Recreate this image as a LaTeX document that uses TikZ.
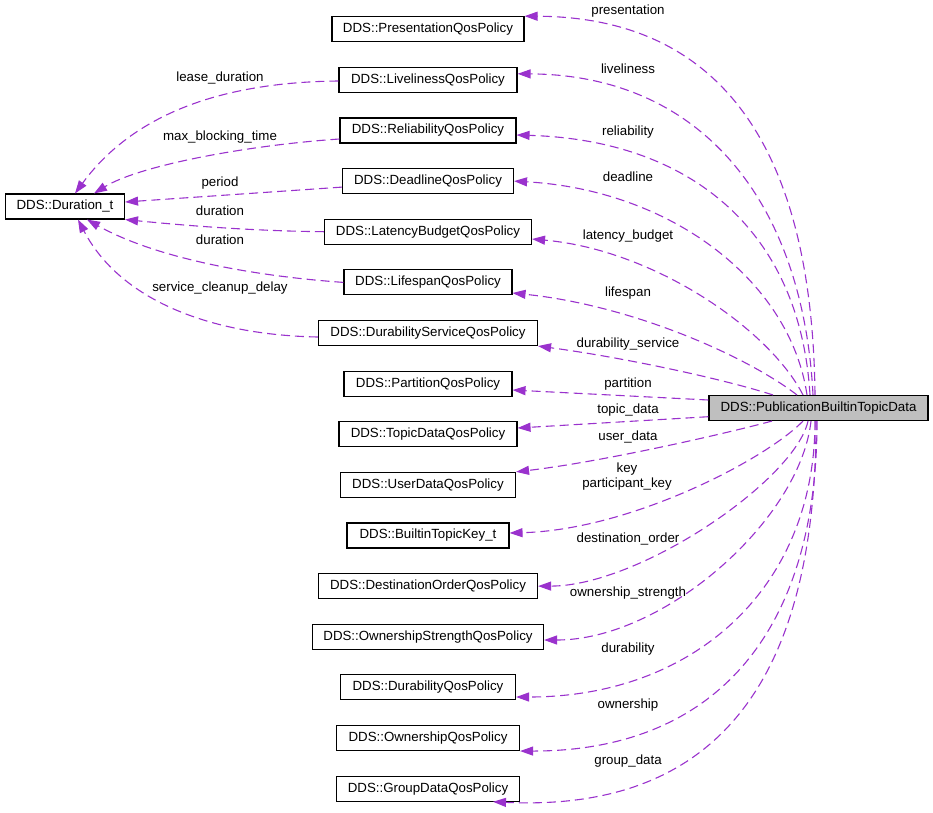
\documentclass[tikz,border=0pt]{standalone}
\usepackage{fontspec}
\setmainfont{Liberation Sans}
\usepackage{tikz}
\usetikzlibrary{arrows.meta}
\definecolor{orchid}{RGB}{154,50,205}

\begin{document}
\begin{tikzpicture}[x=1pt, y=-1pt, >={Triangle[length=13pt, width=9pt]},
    font=\fontsize{13.3}{15}\selectfont,
    cls/.style={draw, line width=1.1pt, minimum height=25pt, inner sep=0pt, text height=9.7pt, text depth=2.8pt},
    dep/.style={->, orchid, line width=1.1pt, dash pattern=on 9pt off 5pt},
    lbl/.style={text=black, inner sep=0pt, text height=9.7pt, text depth=2.8pt}]

    \useasboundingbox (0,0) rectangle (933,812);

    % Nodes
    \node (main) [cls, fill=black!25, minimum width=219pt] at (818.5,408) {DDS::PublicationBuiltinTopicData};
    \node (dur) [cls, minimum width=119pt] at (65,206.5) {DDS::Duration\_t};

    \node (pres) [cls, minimum width=192pt] at (428,29.2) {DDS::PresentationQosPolicy};
    \node (live) [cls, minimum width=178pt] at (428,79.8) {DDS::LivelinessQosPolicy};
    \node (reli) [cls, minimum width=176pt] at (428,130.5) {DDS::ReliabilityQosPolicy};
    \node (dead) [cls, minimum width=171pt] at (428,181.1) {DDS::DeadlineQosPolicy};
    \node (late) [cls, minimum width=207pt] at (428,231.7) {DDS::LatencyBudgetQosPolicy};
    \node (life) [cls, minimum width=168pt] at (428,282.4) {DDS::LifespanQosPolicy};
    \node (dserv) [cls, minimum width=219pt] at (428,333.0) {DDS::DurabilityServiceQosPolicy};
    \node (part) [cls, minimum width=168pt] at (428,383.6) {DDS::PartitionQosPolicy};
    \node (topic) [cls, minimum width=178pt] at (428,434.2) {DDS::TopicDataQosPolicy};
    \node (user) [cls, minimum width=175pt] at (428,484.9) {DDS::UserDataQosPolicy};
    \node (key) [cls, minimum width=162pt] at (428,535.5) {DDS::BuiltinTopicKey\_t};
    \node (dest) [cls, minimum width=219pt] at (428,586.1) {DDS::DestinationOrderQosPolicy};
    \node (ownstr) [cls, minimum width=231pt] at (428,636.8) {DDS::OwnershipStrengthQosPolicy};
    \node (dura) [cls, minimum width=175pt] at (428,687.4) {DDS::DurabilityQosPolicy};
    \node (owner) [cls, minimum width=183pt] at (428,738.0) {DDS::OwnershipQosPolicy};
    \node (group) [cls, minimum width=183pt] at (428,788.7) {DDS::GroupDataQosPolicy};

    % Arrows and edge labels (main to its members)
    \draw[dep] ([xshift=-3.5pt]main.north) .. controls (812,120) and (700,17) .. (pres.north east)
        node[lbl] (l-pres) at (628,11.5) {presentation};
    \draw[dep] ([xshift=-5.5pt]main.north) .. controls (803,200) and (700,75) .. ([yshift=6pt]live.east)
        node[lbl] (l-live) at (628,70.5) {liveliness};
    \draw[dep] ([xshift=-8.5pt]main.north) .. controls (800,230) and (690,140) .. ([yshift=-4.5pt]reli.east)
        node[lbl] (l-reli) at (628,131.7) {reliability};
    \draw[dep] ([xshift=-11.5pt]main.north) .. controls (790,280) and (670,190) .. (dead.east)
        node[lbl] (l-dead) at (628,178.5) {deadline};
    \draw[dep] ([xshift=-15.5pt]main.north) .. controls (770,330) and (655,250) .. ([yshift=-7.3pt]late.east)
        node[lbl] (l-late) at (628,236.5) {latency\_budget};
    \draw[dep] ([xshift=-21.5pt]main.north) .. controls (745,355) and (630,305) .. ([yshift=-10.6pt]life.east)
        node[lbl] (l-life) at (628,292.7) {lifespan};
    \draw[dep] ([xshift=-45.5pt]main.north) .. controls (720,378) and (620,357) .. (dserv.south east)
        node[lbl] (l-dserv) at (628,343.7) {durability\_service};
    \draw[dep] ([yshift=8pt]main.west) -- ([yshift=-6.4pt]part.east)
        node[lbl] (l-part) at (628,383.7) {partition};
    \draw[dep] ([yshift=-8.7pt]main.west) -- ([yshift=6.2pt]topic.east)
        node[lbl] (l-topic) at (628,410.5) {topic\_data};
    \draw[dep] ([xshift=-46.5pt]main.south) .. controls (720,435) and (600,462) .. (user.north east)
        node[lbl] (l-user) at (628,436.7) {user\_data};
    \draw[dep] ([xshift=-15.5pt]main.south) .. controls (765,460) and (630,530) .. ([yshift=2.5pt]key.east)
        node[lbl, align=center] (l-key) at (627,484.2) {key\\participant\_key};
    \draw[dep] ([xshift=-10.5pt]main.south) .. controls (795,480) and (640,586) .. (dest.east)
        node[lbl] (l-dest) at (628,539.3) {destination\_order};
    \draw[dep] ([xshift=-7.5pt]main.south) .. controls (800,520) and (664,640) .. ([yshift=-3.2pt]ownstr.east)
        node[lbl] (l-ownstr) at (628,592.7) {ownership\_strength};
    \draw[dep] ([xshift=-3.5pt]main.south) .. controls (815,587) and (695,697) .. ([yshift=-9.6pt]dura.east)
        node[lbl] (l-dura) at (628,648.7) {durability};
    \draw[dep] ([xshift=-1.5pt]main.south) .. controls (817,635) and (713,751) .. (owner.south east)
        node[lbl] (l-owner) at (628,704.7) {ownership};
    \draw[dep] ([xshift=-2.5pt]main.south) .. controls (816,686) and (713,812) .. ([xshift=65pt]group.south)
        node[lbl] (l-group) at (628,760.7) {group\_data};

    % Arrows and edge labels (members to DDS::Duration_t)
    \draw[dep] ([yshift=-1.2pt]live.west) .. controls (240,82) and (140,105) .. ([xshift=10pt]dur.north)
        node[lbl] (l-lease) at (220,78) {lease\_duration};
    \draw[dep] ([yshift=-8.5pt]reli.west) .. controls (250,145) and (140,165) .. ([xshift=29pt]dur.north)
        node[lbl] (l-block) at (220,137) {max\_blocking\_time};
    \draw[dep] ([yshift=-6pt]dead.west) -- ([yshift=4.5pt]dur.east)
        node[lbl] (l-period) at (220,183.5) {period};
    \draw[dep] (late.west) .. controls (250,231) and (180,225) .. (dur.south east)
        node[lbl] (l-ldur) at (220,212.5) {duration};
    \draw[dep] (life.west) .. controls (240,275) and (150,255) .. ([xshift=22pt]dur.south)
        node[lbl] (l-sdur) at (220,241.5) {duration};
    \draw[dep] ([yshift=-4pt]dserv.west) .. controls (210,335) and (120,300) .. ([xshift=13pt]dur.south)
        node[lbl] (l-clean) at (220,288) {service\_cleanup\_delay};

\end{tikzpicture}
\end{document}
